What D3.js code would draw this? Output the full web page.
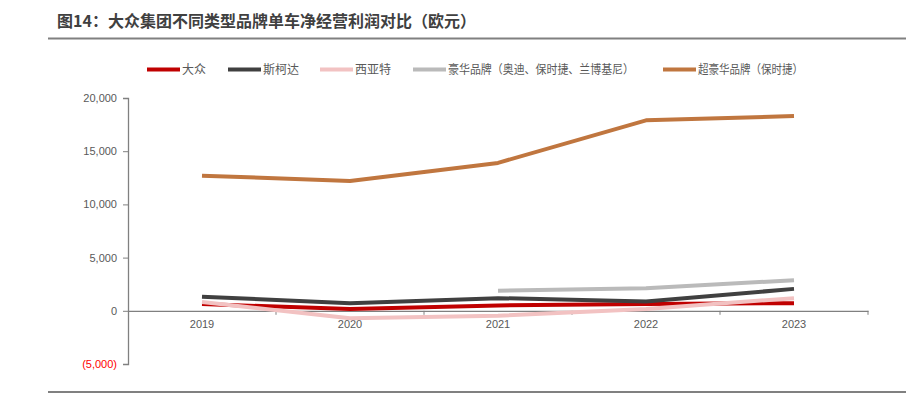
<!DOCTYPE html>
<html>
<head>
<meta charset="utf-8">
<script src="https://cdn.jsdelivr.net/npm/d3@7"></script>
<style>
  body { margin: 0; background: #fff; }
  svg { display: block; font-family: "Liberation Sans", Arial, "Noto Sans CJK SC", sans-serif; }
</style>
</head>
<body>
<div id="chart"></div>
<script>
// data
const years = ["2019", "2020", "2021", "2022", "2023"];
const seriesNames = ["大众", "斯柯达", "西亚特", "豪华品牌（奥迪、保时捷、兰博基尼）", "超豪华品牌（保时捷）"];
const vwValues = [630, 160, 500, 650, 720];
const skodaValues = [1330, 720, 1190, 870, 2060];
const seatValues = [820, -690, -470, 160, 1190];
const luxuryValues = [null, null, 1880, 2130, 2880];
const superLuxuryValues = [12700, 12200, 13900, 17900, 18300];
const yTicks = [-5000, 0, 5000, 10000, 15000, 20000];

const colors = ["#C00000", "#404040", "#F2C2C2", "#BABABA", "#C0763F"];
const allValues = [vwValues, skodaValues, seatValues, luxuryValues, superLuxuryValues];

const WIDTH = 921, HEIGHT = 397;

const svg = d3.select("#chart").append("svg")
  .attr("width", WIDTH)
  .attr("height", HEIGHT);

// title and rules
svg.append("text")
  .attr("x", 57).attr("y", 27)
  .attr("font-size", 16).attr("font-weight", "bold")
  .attr("fill", "#404040")
  .style("font-family", "'Noto Sans CJK SC', sans-serif")
  .text("图14：大众集团不同类型品牌单车净经营利润对比（欧元）");

svg.append("line")
  .attr("x1", 48).attr("x2", 906).attr("y1", 38.5).attr("y2", 38.5)
  .attr("stroke", "#808080").attr("stroke-width", 2);
svg.append("line")
  .attr("x1", 48).attr("x2", 906).attr("y1", 392).attr("y2", 392)
  .attr("stroke", "#808080").attr("stroke-width", 2);

// scales
const xScale = d3.scaleBand().domain(years).range([128, 868]);
const yScale = d3.scaleLinear().domain([-5000, 20000]).range([364, 98]);

// y axis
const yAxis = svg.append("g")
  .attr("transform", "translate(128,0)")
  .call(d3.axisLeft(yScale).tickValues(yTicks).tickSize(5).tickPadding(6)
    .tickFormat(d => d < 0 ? "(" + d3.format(",")(-d) + ")" : d3.format(",")(d)));
yAxis.select(".domain").attr("stroke", "#808080").attr("stroke-width", 1.3);
yAxis.selectAll(".tick line").attr("stroke", "#808080");
yAxis.selectAll(".tick text")
  .attr("font-size", 11)
  .attr("fill", d => d < 0 ? "#FF0000" : "#595959");

// x axis on zero line
const xAxis = svg.append("g")
  .attr("transform", "translate(0," + yScale(0) + ")")
  .call(d3.axisBottom(xScale).tickSize(0).tickPadding(9));
xAxis.select(".domain").attr("stroke", "#808080").attr("stroke-width", 1.3);
xAxis.selectAll(".tick text").attr("font-size", 11).attr("fill", "#595959");

// tick marks between categories
xAxis.selectAll(".sep")
  .data(years.slice(1).concat(["end"]))
  .enter().append("line")
  .attr("x1", (d, i) => 128 + xScale.step() * (i + 1))
  .attr("x2", (d, i) => 128 + xScale.step() * (i + 1))
  .attr("y1", 0).attr("y2", 4)
  .attr("stroke", "#808080");

// lines
const line = d3.line()
  .defined(d => d.v !== null)
  .x(d => xScale(d.year) + xScale.bandwidth() / 2)
  .y(d => yScale(d.v));

allValues.forEach((vals, i) => {
  svg.append("path")
    .datum(years.map((y, j) => ({year: y, v: vals[j]})))
    .attr("d", line)
    .attr("fill", "none")
    .attr("stroke", colors[i])
    .attr("stroke-width", 4)
    .attr("stroke-linejoin", "round");
});

// legend
const legendX = [147, 228, 320, 413, 663];
const legendW = [null, null, null, 186, 105];
const legend = svg.selectAll(".legend")
  .data(seriesNames)
  .enter().append("g")
  .attr("transform", (d, i) => "translate(" + legendX[i] + ",69.5)");
legend.append("line")
  .attr("x1", 0).attr("x2", 33).attr("y1", 0).attr("y2", 0)
  .attr("stroke", (d, i) => colors[i]).attr("stroke-width", 4);
legend.append("text")
  .attr("x", 35).attr("y", 4.5)
  .attr("font-size", 12).attr("fill", "#595959")
  .attr("textLength", (d, i) => legendW[i])
  .attr("lengthAdjust", "spacingAndGlyphs")
  .style("font-family", "'Noto Sans CJK SC', sans-serif")
  .text(d => d);
</script>
</body>
</html>
